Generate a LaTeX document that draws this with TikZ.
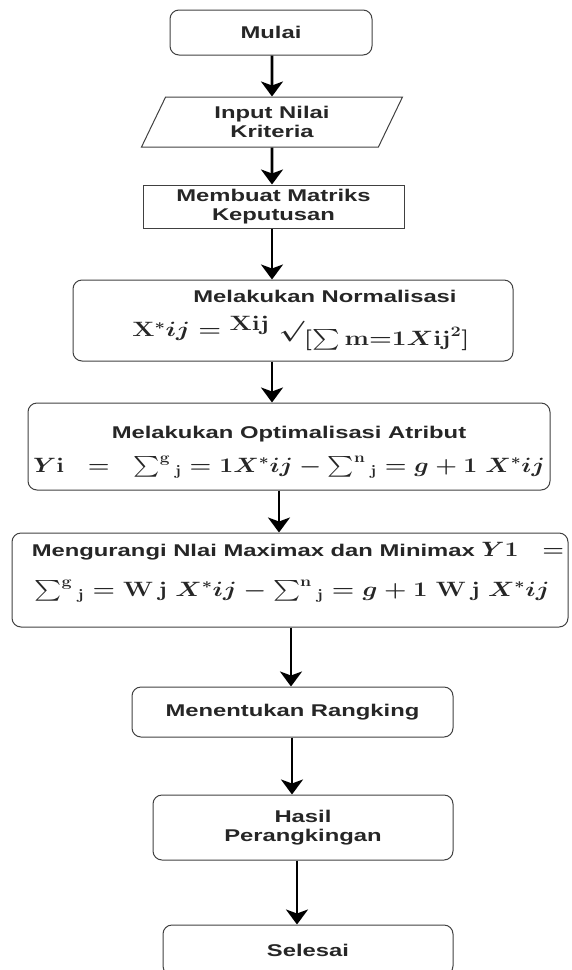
\documentclass[tikz,border=0pt]{standalone}
\usepackage{amsmath}
\usepackage{fontspec}
\usepackage{graphicx}
\usetikzlibrary{shapes.geometric,arrows.meta}
\newfontfamily\lblfont[FakeStretch=1.4]{Liberation Sans}
\newcommand{\fml}[2][1.2]{\makebox[0pt]{\fontsize{20}{24}\selectfont\scalebox{#1}[1]{\boldmath$#2$}}}
\newcommand{\sm}[1]{\sum\nolimits^{\mathbf{#1}}{}_{\mathbf{j}}}

\begin{document}
\begin{tikzpicture}[x=1pt,y=-1pt,
	box/.style={draw=black!75, line width=1pt, rounded corners=9pt, align=center, inner sep=0pt,
		font=\lblfont\bfseries\fontsize{17}{19.5}\selectfont, text=black!85},
	plainbox/.style={box, rounded corners=0pt},
	datain/.style={box, rounded corners=0pt, trapezium, trapezium left angle=53, trapezium right angle=127,
		trapezium stretches body},
	flow/.style={-{Stealth[length=15pt,width=22pt,inset=4pt]}, line width=2.6pt}]
	\useasboundingbox (0,0) rectangle (571,970);
	\clip (0,0) rectangle (571,970);
	% boxes
	\node[box, minimum width=202, minimum height=45] (mulai) at (271,32.5) {Mulai};
	\node[datain, minimum width=261, minimum height=50] (input) at (272,122) {Input Nilai\\Kriteria};
	\node[plainbox, minimum width=261, minimum height=43] (matriks) at (273.5,206.5) {Membuat Matriks\\Keputusan};
	\node[box, minimum width=440, minimum height=81] (normal) at (293,320.5)
		{\hspace*{64pt}Melakukan Normalisasi\\[12pt]
		\hspace*{16pt}\fml[1.26]{\mathbf{X}^{*}ij = \raisebox{0.6ex}{$\mathbf{Xij}$}\ \surd\raisebox{-0.8ex}{$[\sum\mathbf{m{=}1}X\mathbf{ij}^{2}]$}}};
	\node[box, minimum width=522, minimum height=87] (optimal) at (289,446.5)
		{\rule{0pt}{23pt}Melakukan Optimalisasi Atribut\\[13pt]
		\fml{Y\mathbf{i}\;\;=\;\;\sm{g} = \mathbf{1}X^{*}ij - \sm{n} = g + \mathbf{1}\;X^{*}ij}};
	\node[box, minimum width=556, minimum height=94] (kurang) at (290,580)
		{\hspace*{16pt}\makebox[0pt]{Mengurangi Nlai Maximax dan Minimax \fontsize{20}{24}\selectfont\scalebox{1.2}[1]{\boldmath$Y\mathbf{1}\;\;=$}}\\[19pt]
		\hspace*{4pt}\fml[1.24]{\sm{g} = \mathbf{W\,j}\;X^{*}ij - \sm{n} = g + \mathbf{1}\;\mathbf{W\,j}\;X^{*}ij}\rule[-22pt]{0pt}{0pt}};
	\node[box, minimum width=321, minimum height=50] (rangking) at (292.5,712) {Menentukan Rangking};
	\node[box, minimum width=300, minimum height=65] (hasil) at (303,827.5) {Hasil\\Perangkingan};
	\node[box, minimum width=290, minimum height=50] (selesai) at (308,950) {Selesai};
	% arrows
	\draw[flow] ([xshift=1pt]mulai.south) -- (input.north);
	\draw[flow] (input.south) -- ([xshift=-1.5pt]matriks.north);
	\draw[flow] ([xshift=-1.5pt]matriks.south) -- ([xshift=-21pt]normal.north);
	\draw[flow] ([xshift=-21pt]normal.south) -- ([xshift=-17pt]optimal.north);
	\draw[flow] ([xshift=-10pt]optimal.south) -- ([xshift=-11pt]kurang.north);
	\draw[flow] ([xshift=1pt]kurang.south) -- ([xshift=-1.5pt]rangking.north);
	\draw[flow] ([xshift=-0.5pt]rangking.south) -- ([xshift=-11pt]hasil.north);
	\draw[flow] ([xshift=-6pt]hasil.south) -- ([xshift=-11pt]selesai.north);
\end{tikzpicture}
\end{document}
